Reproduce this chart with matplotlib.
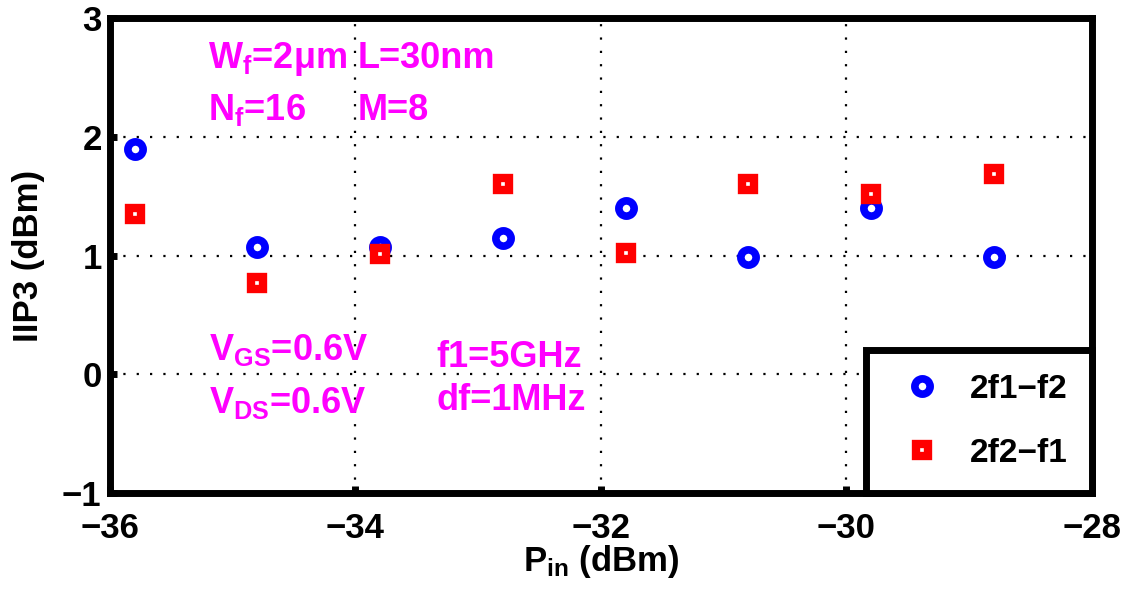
import matplotlib
matplotlib.use('Agg')
import matplotlib.pyplot as plt

plt.rcParams['font.family'] = ['Liberation Sans', 'DejaVu Sans']
plt.rcParams['font.weight'] = 'bold'
plt.rcParams['mathtext.fontset'] = 'custom'
plt.rcParams['mathtext.rm'] = 'Liberation Sans:bold'
plt.rcParams['mathtext.it'] = 'Liberation Sans:bold'
plt.rcParams['mathtext.bf'] = 'Liberation Sans:bold'

# data
pin = [-35.8, -34.8, -33.8, -32.8, -31.8, -30.8, -29.8, -28.8]
iip3_2f1_f2 = [1.90, 1.07, 1.07, 1.15, 1.40, 0.99, 1.40, 0.99]
iip3_2f2_f1 = [1.35, 0.77, 1.01, 1.60, 1.02, 1.60, 1.52, 1.685]
xticks = [-36, -34, -32, -30, -28]
yticks = [-1, 0, 1, 2, 3]

fig = plt.figure(figsize=(11.21, 5.92), dpi=100)
ax = fig.add_axes([0.0981, 0.1672, 0.876, 0.8024])

ax.plot(pin, iip3_2f1_f2, 'o', ls='none', color='#0000ff', mfc='white',
        ms=11, mew=5.5, label='2f1\u2212f2')
ax.plot(pin, iip3_2f2_f1, 's', ls='none', color='#ff0000', mfc='white',
        ms=9, mew=6, label='2f2\u2212f1')

ax.set_xlim(-36, -28)
ax.set_ylim(-1, 3)
ax.set_xticks(xticks)
ax.set_yticks(yticks)
ax.grid(True, color='black', lw=1.6, ls=(0, (1, 5)))
ax.tick_params(direction='in', length=5, width=5, labelsize=25)
ax.tick_params(axis='x', pad=14)
ax.tick_params(axis='y', pad=6)
for s in ax.spines.values():
    s.set_linewidth(5)

ax.set_xlabel('P$_{in}$ (dBm)', fontsize=25, fontweight='bold', labelpad=-2)
ax.set_ylabel('IIP3 (dBm)', fontsize=25, fontweight='bold', labelpad=12)

mag = '#ff00ff'
fs = 26
ax.text(-35.2, 2.58, 'W$_f$=2\u03bcm', color=mag, fontsize=fs, fontweight='bold')
ax.text(-33.98, 2.58, 'L=30nm', color=mag, fontsize=fs, fontweight='bold')
ax.text(-35.2, 2.14, 'N$_f$=16', color=mag, fontsize=fs, fontweight='bold')
ax.text(-33.98, 2.14, 'M=8', color=mag, fontsize=fs, fontweight='bold')
ax.text(-35.19, 0.12, 'V$_{GS}$=0.6V', color=mag, fontsize=fs, fontweight='bold')
ax.text(-35.19, -0.33, 'V$_{DS}$=0.6V', color=mag, fontsize=fs, fontweight='bold')
ax.text(-33.34, 0.06, 'f1=5GHz', color=mag, fontsize=fs, fontweight='bold')
ax.text(-33.34, -0.30, 'df=1MHz', color=mag, fontsize=fs, fontweight='bold')

leg = ax.legend(loc='lower right', borderaxespad=0, fontsize=24, frameon=True,
                fancybox=False, edgecolor='black', framealpha=1,
                borderpad=0.72, labelspacing=1.0, handlelength=1.9,
                handletextpad=0.5)
leg.get_frame().set_linewidth(5)
for t in leg.get_texts():
    t.set_fontweight('bold')

fig.savefig('out.png', dpi=100)
